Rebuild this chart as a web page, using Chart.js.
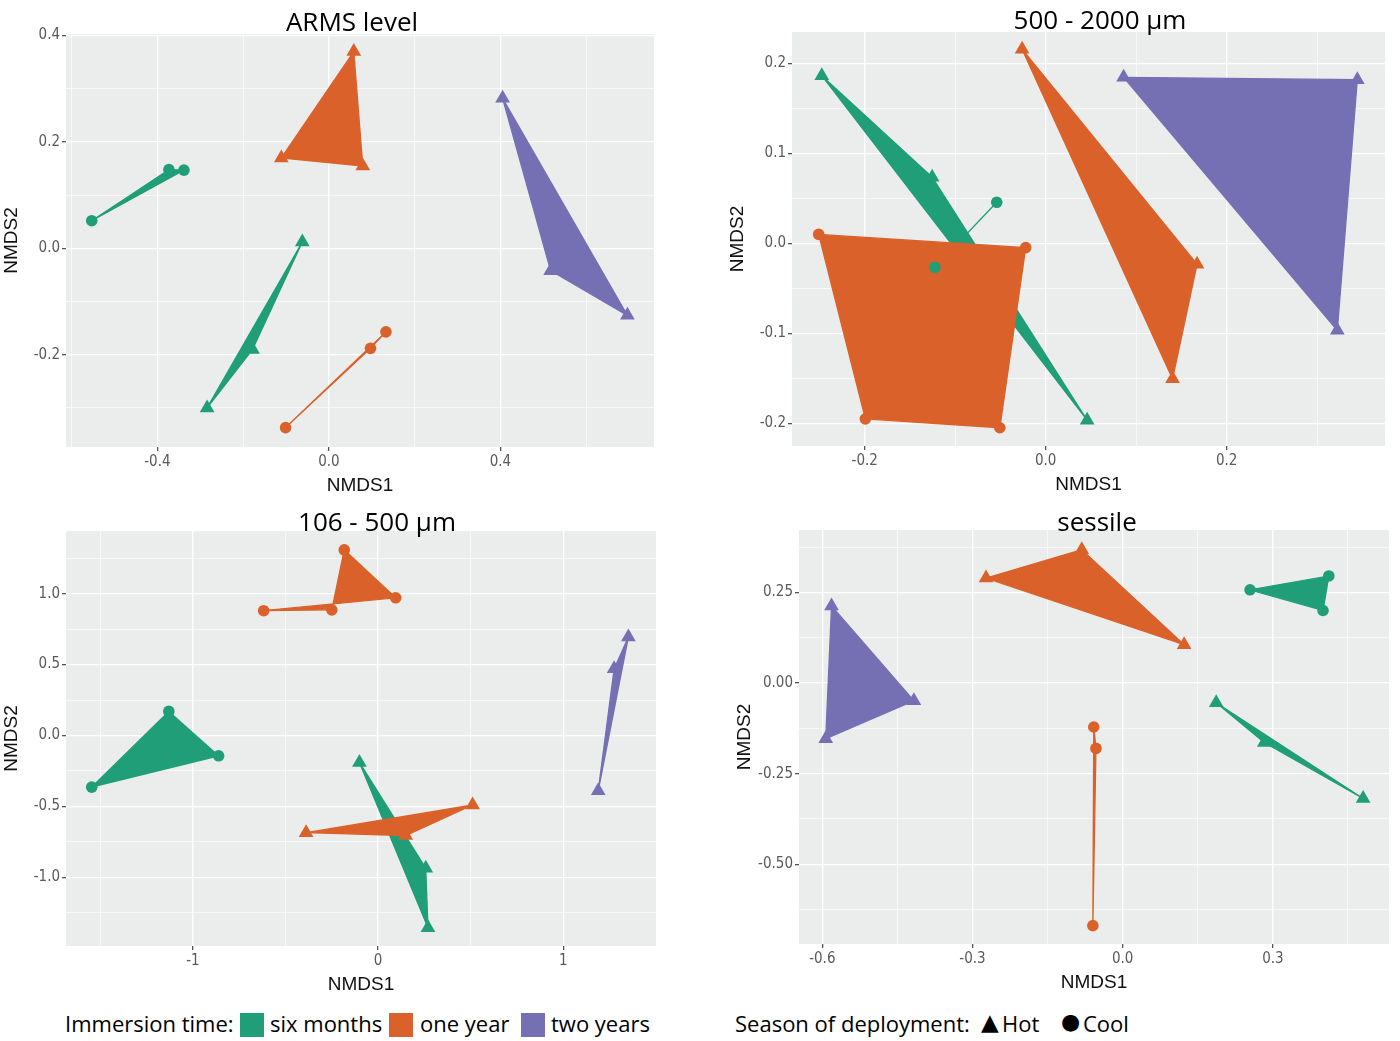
<!DOCTYPE html>
<html>
<head>
<meta charset="utf-8">
<script src="https://cdn.jsdelivr.net/npm/chart.js@4.4.1/dist/chart.umd.min.js"></script>
<style>
    body { margin: 0; background: #fff; width: 1400px; height: 1041px; position: relative; overflow: hidden; font-family: "Open Sans", sans-serif; }
    canvas { position: absolute; }
    .title { position: absolute; transform: translateX(-50%); font-size: 26px; line-height: 1; color: #000; white-space: nowrap; }
    .legend { position: absolute; font-size: 22px; line-height: 1; color: #000; white-space: nowrap; }
    .swatch { position: absolute; width: 24px; height: 24px; }
    .sym { position: absolute; line-height: 1; color: #000; font-family: "DejaVu Sans", sans-serif; }
</style>
</head>
<body>
<canvas id="armsChart" width="664" height="474" style="left:0;top:23px"></canvas>
<canvas id="largeChart" width="669" height="475" style="left:726px;top:21px"></canvas>
<canvas id="smallChart" width="666" height="476" style="left:0;top:520px"></canvas>
<canvas id="sessileChart" width="666" height="475" style="left:733px;top:519px"></canvas>

<div class="title" style="left:352px;top:8px">ARMS level</div>
<div class="title" style="left:1100px;top:6px">500 - 2000 µm</div>
<div class="title" style="left:377px;top:508px">106 - 500 µm</div>
<div class="title" style="left:1097px;top:508px">sessile</div>

<div class="legend" style="left:65px;top:1012px">Immersion time:</div>
<div class="swatch" id="swSix" style="left:240px;top:1013px"></div>
<div class="legend" style="left:270px;top:1012px">six months</div>
<div class="swatch" id="swOne" style="left:389px;top:1013px"></div>
<div class="legend" style="left:420px;top:1012px">one year</div>
<div class="swatch" id="swTwo" style="left:521px;top:1013px"></div>
<div class="legend" style="left:551px;top:1012px">two years</div>
<div class="legend" style="left:735px;top:1012px">Season of deployment:</div>
<div class="sym" style="left:981px;top:1011px;font-size:23px">▲</div>
<div class="legend" style="left:1002px;top:1012px">Hot</div>
<div class="sym" style="left:1061px;top:1011px;font-size:22px">●</div>
<div class="legend" style="left:1083px;top:1012px">Cool</div>

<script>
// colours per immersion time
const groupColors = ['#1f9e77', '#da622a', '#7570b3'];

// ARMS level  [NMDS1, NMDS2], listed in polygon order
const armsSixCool = [[-0.553, 0.052], [-0.373, 0.148], [-0.338, 0.147]];
const armsSixHot = [[-0.062, 0.012], [-0.178, -0.190], [-0.284, -0.300]];
const armsOneHot = [[0.058, 0.370], [-0.111, 0.170], [0.079, 0.155]];
const armsOneCool = [[0.133, -0.157], [0.097, -0.188], [-0.101, -0.337]];
const armsTwoHot = [[0.405, 0.282], [0.517, -0.042], [0.696, -0.126]];

// 500 - 2000 um
const largeSixHot = [[-0.2475, 0.1864], [-0.1255, 0.0735], [0.0458, -0.1967]];
const largeSixCool = [[-0.0541, 0.0456], [-0.1225, -0.0268]];
const largeOneHot = [[-0.0261, 0.2158], [0.1673, -0.0232], [0.1402, -0.1507]];
const largeOneCool = [[-0.2509, 0.0099], [-0.0221, -0.0048], [-0.0507, -0.2051], [-0.1993, -0.1952]];
const largeTwoHot = [[0.0861, 0.1846], [0.3444, 0.182], [0.3223, -0.0967]];

// 106 - 500 um
const smallSixCool = [[-1.13, 0.170], [-0.861, -0.143], [-1.546, -0.364]];
const smallSixHot = [[-0.101, -0.190], [0.257, -0.935], [0.269, -1.355]];
const smallOneCool = [[-0.618, 0.880], [-0.250, 0.886], [-0.183, 1.309], [0.095, 0.971]];
const smallOneHot = [[-0.389, -0.685], [0.510, -0.490], [0.149, -0.705]];
const smallTwoHot = [[1.351, 0.695], [1.274, 0.470], [1.188, -0.390]];

// sessile
const sessileSixCool = [[0.2544, 0.2576], [0.4118, 0.2958], [0.4002, 0.2004]];
const sessileSixHot = [[0.1868, -0.0544], [0.2828, -0.1641], [0.4803, -0.3187]];
const sessileOneHot = [[-0.273, 0.290], [-0.0818, 0.368], [0.1227, 0.106]];
const sessileOneCool = [[-0.0578, -0.1212], [-0.0534, -0.1803], [-0.0596, -0.6698]];
const sessileTwoHot = [[-0.5816, 0.2130], [-0.4171, -0.0490], [-0.5932, -0.1540]];

// tick values and labels
const armsXTicks = [-0.4, 0, 0.4];
const armsXLabels = ['-0.4', '0.0', '0.4'];
const armsXMinor = [-0.6, -0.2, 0.2, 0.6];
const armsYTicks = [-0.2, 0, 0.2, 0.4];
const armsYLabels = ['-0.2', '0.0', '0.2', '0.4'];
const armsYMinor = [-0.3, -0.1, 0.1, 0.3];

const largeXTicks = [-0.2, 0, 0.2];
const largeXLabels = ['-0.2', '0.0', '0.2'];
const largeXMinor = [-0.1, 0.1, 0.3];
const largeYTicks = [-0.2, -0.1, 0, 0.1, 0.2];
const largeYLabels = ['-0.2', '-0.1', '0.0', '0.1', '0.2'];
const largeYMinor = [-0.15, -0.05, 0.05, 0.15];

const smallXTicks = [-1, 0, 1];
const smallXLabels = ['-1', '0', '1'];
const smallXMinor = [-1.5, -0.5, 0.5, 1.5];
const smallYTicks = [-1, -0.5, 0, 0.5, 1];
const smallYLabels = ['-1.0', '-0.5', '0.0', '0.5', '1.0'];
const smallYMinor = [-1.25, -0.75, -0.25, 0.25, 0.75, 1.25];

const sessileXTicks = [-0.6, -0.3, 0, 0.3];
const sessileXLabels = ['-0.6', '-0.3', '0.0', '0.3'];
const sessileXMinor = [-0.45, -0.15, 0.15, 0.45];
const sessileYTicks = [-0.5, -0.25, 0, 0.25];
const sessileYLabels = ['-0.50', '-0.25', '0.00', '0.25'];
const sessileYMinor = [-0.625, -0.375, -0.125, 0.125, 0.375];

document.getElementById('swSix').style.background = groupColors[0];
document.getElementById('swOne').style.background = groupColors[1];
document.getElementById('swTwo').style.background = groupColors[2];

const toXY = pts => pts.map(p => ({ x: p[0], y: p[1] }));

const panelBackground = {
    id: 'panelBackground',
    beforeDraw(chart) {
        const a = chart.chartArea;
        const ctx = chart.ctx;
        ctx.save();
        ctx.fillStyle = '#ebedec';
        ctx.fillRect(a.left, a.top, a.right - a.left, a.bottom - a.top);
        ctx.restore();
    }
};

function makeAxis(range, major, labels, minor, title, isX) {
    const all = major.concat(minor).sort((a, b) => a - b);
    const isMajor = v => major.some(m => Math.abs(m - v) < 1e-9);
    return {
        type: 'linear',
        min: range[0],
        max: range[1],
        afterBuildTicks: scale => { scale.ticks = all.map(v => ({ value: v })); },
        afterFit: scale => { if (isX) scale.height = 50; else scale.width = 66; },
        border: { display: false },
        grid: {
            color: '#ffffff',
            lineWidth: c => (c.tick && isMajor(c.tick.value)) ? 1.3 : 0.6,
            tickColor: c => (c.tick && isMajor(c.tick.value)) ? '#555' : 'rgba(0,0,0,0)',
            tickLength: 4,
            drawTicks: true
        },
        ticks: {
            autoSkip: false,
            maxRotation: 0,
            padding: 2,
            color: '#5a5a5a',
            font: { family: '"Liberation Sans Narrow", "DejaVu Sans Condensed", sans-serif', size: 15 },
            callback: function (value) {
                const i = major.findIndex(m => Math.abs(m - value) < 1e-9);
                return i >= 0 ? labels[i] : '';
            }
        },
        title: {
            display: true,
            text: title,
            color: '#111',
            padding: isX ? { top: 1, bottom: 0 } : { top: 0, bottom: 2 },
            font: { family: '"Liberation Sans", Arial, sans-serif', size: 19 }
        }
    };
}

// geom_polygon style: every group is drawn as a filled polygon in data order
function buildPanel(canvasId, groupsList, xRange, yRange, xAxis, yAxis) {
    const datasets = [];
    // markers on top
    groupsList.forEach(g => {
        datasets.push({
            type: 'scatter',
            data: toXY(g.points),
            pointStyle: g.hot ? 'triangle' : 'circle',
            pointRadius: g.hot ? 8.5 : 5.8,
            backgroundColor: groupColors[g.group],
            borderColor: groupColors[g.group],
            borderWidth: 0,
            order: 0
        });
    });
    // polygons underneath, green lowest
    groupsList.forEach(g => {
        datasets.push({
            type: 'line',
            data: toXY(g.points.concat([g.points[0]])),
            borderColor: groupColors[g.group],
            backgroundColor: groupColors[g.group],
            borderWidth: 1.3,
            fill: 'shape',
            pointRadius: 0,
            tension: 0,
            order: 30 - g.group * 10
        });
    });

    new Chart(document.getElementById(canvasId), {
        type: 'scatter',
        data: { datasets: datasets },
        options: {
            responsive: false,
            animation: false,
            devicePixelRatio: 1,
            events: [],
            layout: { padding: { top: 10, right: 10, left: 0, bottom: 0 } },
            plugins: { legend: { display: false }, tooltip: { enabled: false } },
            scales: {
                x: makeAxis(xRange, xAxis[0], xAxis[1], xAxis[2], 'NMDS1', true),
                y: makeAxis(yRange, yAxis[0], yAxis[1], yAxis[2], 'NMDS2', false)
            }
        },
        plugins: [panelBackground]
    });
}

buildPanel('armsChart', [
    { points: armsSixCool, group: 0, hot: false },
    { points: armsSixHot, group: 0, hot: true },
    { points: armsOneHot, group: 1, hot: true },
    { points: armsOneCool, group: 1, hot: false },
    { points: armsTwoHot, group: 2, hot: true }
], [-0.613, 0.758], [-0.3735, 0.403],
    [armsXTicks, armsXLabels, armsXMinor], [armsYTicks, armsYLabels, armsYMinor]);

buildPanel('largeChart', [
    { points: largeSixHot, group: 0, hot: true },
    { points: largeSixCool, group: 0, hot: false },
    { points: largeOneHot, group: 1, hot: true },
    { points: largeOneCool, group: 1, hot: false },
    { points: largeTwoHot, group: 2, hot: true }
], [-0.2804, 0.375], [-0.2254, 0.235],
    [largeXTicks, largeXLabels, largeXMinor], [largeYTicks, largeYLabels, largeYMinor]);

buildPanel('smallChart', [
    { points: smallSixCool, group: 0, hot: false },
    { points: smallSixHot, group: 0, hot: true },
    { points: smallOneCool, group: 1, hot: false },
    { points: smallOneHot, group: 1, hot: true },
    { points: smallTwoHot, group: 2, hot: true }
], [-1.685, 1.5], [-1.484, 1.442],
    [smallXTicks, smallXLabels, smallXMinor], [smallYTicks, smallYLabels, smallYMinor]);

buildPanel('sessileChart', [
    { points: sessileSixCool, group: 0, hot: false },
    { points: sessileSixHot, group: 0, hot: true },
    { points: sessileOneHot, group: 1, hot: true },
    { points: sessileOneCool, group: 1, hot: false },
    { points: sessileTwoHot, group: 2, hot: true }
], [-0.6466, 0.532], [-0.7204, 0.4227],
    [sessileXTicks, sessileXLabels, sessileXMinor], [sessileYTicks, sessileYLabels, sessileYMinor]);
</script>
</body>
</html>
